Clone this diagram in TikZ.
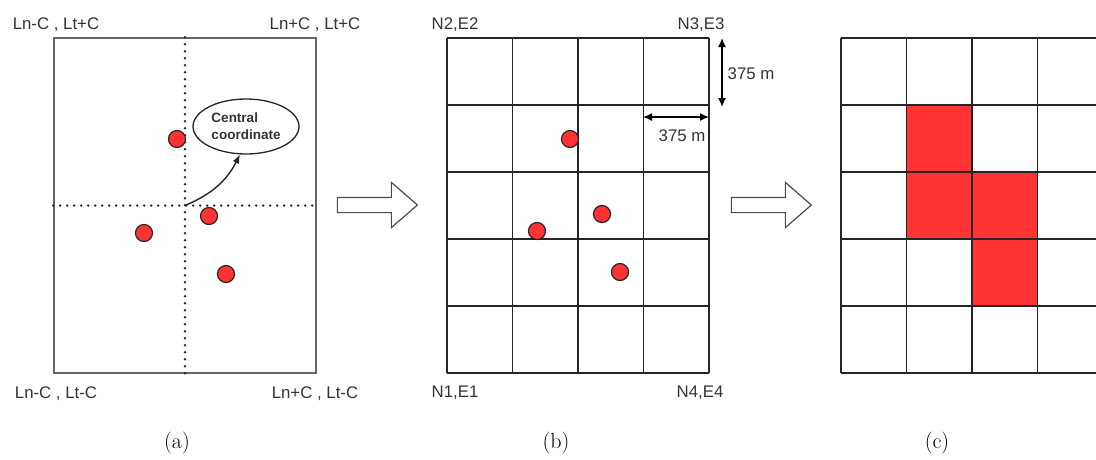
\documentclass[tikz,border=0pt]{standalone}
\usepackage{fontspec}
\usepackage{tikz}
\usetikzlibrary{arrows.meta,shapes.geometric,shapes.arrows}
\newfontfamily\labelfont{Liberation Sans}
\definecolor{cellred}{HTML}{FF3333}

\begin{document}
\begin{tikzpicture}[x=1pt,y=-1pt]
\tikzset{dot/.style = {shape=circle,draw=black!85,fill=cellred,minimum size=17pt,inner sep=0pt,line width=1.2pt}}
\tikzset{lbl/.style = {font=\labelfont\fontsize{16.8}{19}\selectfont,anchor=base,inner sep=0pt,text=black!80}}
\tikzset{caption/.style = {font=\fontsize{22}{24}\selectfont,inner sep=0pt}}
\tikzset{edge/.style = {->,> = {Latex[length=9pt,width=7pt]},line width=1.4pt,black!85}}
\tikzset{dim/.style = {<->,> = {Latex[length=9pt,width=8pt]},line width=1.5pt}}
\tikzset{guide/.style = {line width=2.6pt,line cap=round,dash pattern=on 0pt off 7pt,black!85}}
\tikzset{gridline/.style = {line width=1.5pt,black!85}}
\tikzset{bigarrow/.style = {shape=single arrow,draw=black!70,fill=white,line width=1.2pt,inner xsep=0pt,inner ysep=7pt,minimum height=80pt,single arrow head extend=15pt,single arrow tip angle=82}}
\clip (0,0) rectangle (1096,459);
% panel a
\node[draw=black!60,line width=1.6pt,minimum width=262pt,minimum height=335pt,inner sep=0pt] (area) at (185,205.5) {};
\draw[guide] (area.north) -- (area.south);
\draw[guide] (area.west) -- (area.east);
\node[lbl] (nw) at (56,29) {Ln-C , Lt+C};
\node[lbl] (ne) at (315,29) {Ln+C , Lt+C};
\node[lbl] (sw) at (56,398) {Ln-C , Lt-C};
\node[lbl] (se) at (315,398) {Ln+C , Lt-C};
\node[dot] (a1) at (177,139) {};
\node[dot] (a2) at (209,216) {};
\node[dot] (a3) at (144,233) {};
\node[dot] (a4) at (226,274) {};
\node[ellipse,draw=black!85,line width=1.3pt,minimum width=106pt,minimum height=55pt,inner sep=0pt,align=left,
  font=\labelfont\bfseries\fontsize{13.5}{17}\selectfont,text=black!80] (ell) at (246,126.5) {Central\\coordinate};
\draw[edge] (area.center) to[bend right=20] (ell.258);
\node[caption] (capa) at (177,443) {(a)};
% arrows between panels
\node[bigarrow] (step1) at (373,205) {};
\node[bigarrow] (step2) at (767,205) {};
% panel b
\foreach \i in {0,...,4}
  \draw[gridline] ({447+65.5*\i},38) -- ({447+65.5*\i},373);
\foreach \j in {0,...,5}
  \draw[gridline] (447,{38+67*\j}) -- (709,{38+67*\j});
\node[lbl] (b2) at (455,29) {N2,E2};
\node[lbl] (b3) at (701,29) {N3,E3};
\node[lbl] (b1) at (455,397) {N1,E1};
\node[lbl] (b4) at (700,397) {N4,E4};
\node[dot] (b5) at (570,139) {};
\node[dot] (b6) at (537,231) {};
\node[dot] (b7) at (602,214) {};
\node[dot] (b8) at (620,272) {};
\coordinate (v1) at (722,38);
\coordinate (v2) at (722,107);
\draw[dim] (v1) -- (v2);
\node[lbl] (vlen) at (751,79) {375 m};
\coordinate (h1) at (643,117);
\coordinate (h2) at (709,117);
\draw[dim] (h1) -- (h2);
\node[lbl] (hlen) at (682,141) {375 m};
\node[caption] (capb) at (556,443) {(b)};
% panel c
\fill[cellred] (906.5,105) rectangle (972,239);
\fill[cellred] (972,172) rectangle (1037.5,306);
\foreach \i in {0,...,4}
  \draw[gridline] ({841+65.5*\i},38) -- ({841+65.5*\i},373);
\foreach \j in {0,...,5}
  \draw[gridline] (841,{38+67*\j}) -- (1103,{38+67*\j});
\node[caption] (capc) at (937,443) {(c)};
\end{tikzpicture}
\end{document}
